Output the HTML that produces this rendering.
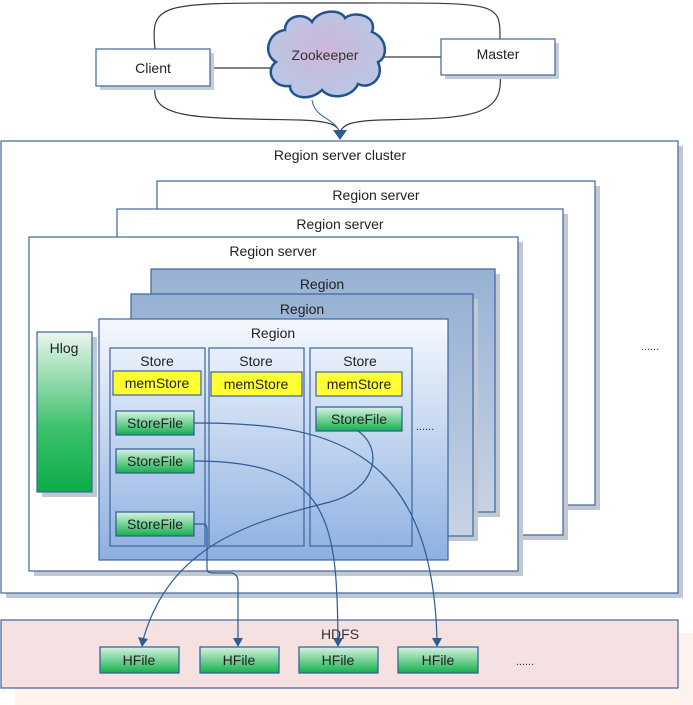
<!DOCTYPE html>
<html><head><meta charset="utf-8"><style>
html,body{margin:0;padding:0;background:#fff;}
svg{display:block;font-family:"Liberation Sans",sans-serif;}
</style></head><body>
<svg width="693" height="705" viewBox="0 0 693 705" xmlns="http://www.w3.org/2000/svg">
<defs>
<linearGradient id="gr" x1="0" y1="0" x2="0" y2="1"><stop offset="0" stop-color="#f6f9fe"/><stop offset="1" stop-color="#8db0e0"/></linearGradient>
<linearGradient id="gh" x1="0" y1="0" x2="0" y2="1"><stop offset="0" stop-color="#eaf6ee"/><stop offset="0.6" stop-color="#3cc06a"/><stop offset="1" stop-color="#0aae48"/></linearGradient>
<linearGradient id="gs" x1="0" y1="0" x2="0" y2="1"><stop offset="0" stop-color="#d8f3e0"/><stop offset="1" stop-color="#13b04e"/></linearGradient>
<linearGradient id="gb" x1="0" y1="0" x2="0" y2="1"><stop offset="0" stop-color="#98b2d4"/><stop offset="1" stop-color="#c6d3e4"/></linearGradient>
<radialGradient id="gc" cx="0.5" cy="0.45" r="0.6"><stop offset="0" stop-color="#cdb6d8"/><stop offset="1" stop-color="#b8c8e6"/></radialGradient>
<marker id="ar" markerWidth="10" markerHeight="10" refX="5" refY="9" orient="auto" markerUnits="userSpaceOnUse"><path d="M0,0 L10,0 L5,10 z" fill="#2d5b94" transform="rotate(-90 5 5) translate(0,0)"/></marker>
</defs>
<g fill="none" stroke="#3a3a3a" stroke-width="1.2">
<path d="M155,49 C150,0 160,3 330,3 C500,3 500,0 500,39"/>
<path d="M155,86 C150,120 200,118 300,120 C330,121 338,125 340,133"/>
<path d="M500,75 C505,120 460,118 380,120 C350,121 342,125 340,133"/>
<line x1="210" y1="68" x2="272" y2="68"/>
<line x1="380" y1="57" x2="441" y2="57"/>
</g>
<path d="M312,100 C315,120 338,118 340,135" fill="none" stroke="#4a78b4" stroke-width="1.2"/>
<path d="M333,130 L347,130 L340,140 z" fill="#2d5b94"/>
<rect x="100" y="53" width="114" height="37" fill="#c7ccd6"/>
<rect x="96" y="49" width="114" height="37" fill="#fff" stroke="#3d64a0" stroke-width="1.2"/>
<text x="153" y="73" font-size="14" text-anchor="middle" fill="#222">Client</text>
<rect x="445" y="43" width="114" height="36" fill="#c7ccd6"/>
<rect x="441" y="39" width="114" height="36" fill="#fff" stroke="#3d64a0" stroke-width="1.2"/>
<text x="498" y="59" font-size="14" text-anchor="middle" fill="#222">Master</text>
<path d="M285,30 C285,15 305,12 312,22 C318,10 340,8 345,18 C355,10 378,16 372,32 C388,38 388,58 378,62 C385,78 370,90 358,84 C352,98 330,100 322,90 C310,102 290,98 290,86 C272,88 265,70 276,62 C262,54 268,32 285,30 z" fill="url(#gc)" stroke="#23528f" stroke-width="2.5"/>
<text x="325" y="60" font-size="14" text-anchor="middle" fill="#333">Zookeeper</text>
<!-- cluster -->
<rect x="6" y="146" width="677" height="452" fill="#c2c8d2"/>
<rect x="1" y="141" width="677" height="452" fill="#fff" stroke="#3d64a0" stroke-width="1.2"/>
<text x="340" y="160" font-size="14" text-anchor="middle" fill="#222">Region server cluster</text>
<text x="650" y="350" font-size="11" text-anchor="middle" fill="#333">......</text>
<rect x="162" y="186" width="438" height="324" fill="#c2c8d2"/>
<rect x="157" y="181" width="438" height="324" fill="#fff" stroke="#3d64a0" stroke-width="1.2"/>
<text x="376" y="200" font-size="14" text-anchor="middle" fill="#222">Region server</text>
<rect x="122" y="214" width="446" height="326" fill="#c2c8d2"/>
<rect x="117" y="209" width="446" height="326" fill="#fff" stroke="#3d64a0" stroke-width="1.2"/>
<text x="340" y="229" font-size="14" text-anchor="middle" fill="#222">Region server</text>
<rect x="34" y="242" width="489" height="334" fill="#c2c8d2"/>
<rect x="29" y="237" width="489" height="334" fill="#fff" stroke="#3d64a0" stroke-width="1.2"/>
<text x="273" y="256" font-size="14" text-anchor="middle" fill="#222">Region server</text>
<rect x="156" y="274" width="344" height="243" fill="#c2c8d2"/>
<rect x="151" y="269" width="344" height="243" fill="url(#gb)" stroke="#3d64a0" stroke-width="1.2"/>
<text x="322" y="289" font-size="14" text-anchor="middle" fill="#222">Region</text>
<rect x="136" y="299" width="342" height="242" fill="#c2c8d2"/>
<rect x="131" y="294" width="342" height="242" fill="url(#gb)" stroke="#3d64a0" stroke-width="1.2"/>
<text x="302" y="314" font-size="14" text-anchor="middle" fill="#222">Region</text>
<rect x="99" y="319" width="349" height="241" fill="url(#gr)" stroke="#3d64a0" stroke-width="1.2"/>
<text x="273" y="338" font-size="14" text-anchor="middle" fill="#222">Region</text>
<rect x="42" y="337" width="55" height="160" fill="#c2c8d2"/>
<rect x="37" y="332" width="55" height="160" fill="url(#gh)" stroke="#3d64a0" stroke-width="1.2"/>
<text x="64" y="353" font-size="14" text-anchor="middle" fill="#222">Hlog</text>
<g fill="none" stroke="#3d64a0" stroke-width="1.2">
<rect x="110" y="348" width="95" height="198"/>
<rect x="209" y="348" width="95" height="198"/>
<rect x="310" y="348" width="102" height="198"/>
</g>
<g font-size="14" text-anchor="middle" fill="#222">
<text x="157" y="366">Store</text><text x="256" y="366">Store</text><text x="360" y="366">Store</text>
</g>
<g fill="#ffff33" stroke="#3d64a0" stroke-width="1.2">
<rect x="113" y="371" width="88" height="24"/><rect x="211" y="372" width="91" height="24"/><rect x="316" y="372" width="86" height="24"/>
</g>
<g font-size="14" text-anchor="middle" fill="#222">
<text x="157" y="388">memStore</text><text x="256" y="389">memStore</text><text x="359" y="389">memStore</text>
</g>
<g fill="url(#gs)" stroke="#2d5b94" stroke-width="1.2">
<rect x="116" y="411" width="78" height="24"/><rect x="116" y="449" width="78" height="24"/><rect x="116" y="512" width="78" height="24"/><rect x="316" y="407" width="86" height="24"/>
</g>
<g font-size="14" text-anchor="middle" fill="#222">
<text x="155" y="428">StoreFile</text><text x="155" y="466">StoreFile</text><text x="155" y="529">StoreFile</text><text x="359" y="424">StoreFile</text>
</g>
<text x="425" y="430" font-size="11" text-anchor="middle" fill="#333">......</text>
<!-- HDFS -->
<rect x="15" y="633" width="678" height="72" fill="#fdf2ec"/>
<rect x="1" y="620" width="677" height="68" fill="#f5e1e1" stroke="#3d64a0" stroke-width="1.2"/>
<text x="340" y="639" font-size="14" text-anchor="middle" fill="#333">HDFS</text>
<g fill="url(#gs)" stroke="#2d5b94" stroke-width="1.2">
<rect x="100" y="647" width="79" height="26"/><rect x="200" y="647" width="79" height="26"/><rect x="299" y="647" width="79" height="26"/><rect x="398" y="647" width="80" height="26"/>
</g>
<g font-size="14" text-anchor="middle" fill="#222">
<text x="139" y="665">HFile</text><text x="239" y="665">HFile</text><text x="338" y="665">HFile</text><text x="438" y="665">HFile</text>
</g>
<text x="525" y="665" font-size="11" text-anchor="middle" fill="#333">......</text>
<!-- connectors -->
<g fill="none" stroke="#2d5b94" stroke-width="1.2">
<path d="M194,423 C320,423 432,440 437,640"/>
<path d="M194,461 C330,461 337,520 338,640"/>
<path d="M194,524 H203 Q207,524 207,530 V569 Q207,573 213,573 H230 Q238,573 238,582 V640"/>
<path d="M358,431 C385,450 375,490 330,502 C250,522 170,545 143,640"/>
</g>
<g fill="#2d5b94">
<path d="M432,638 L442,638 L437,647 z"/>
<path d="M333,638 L343,638 L338,647 z"/>
<path d="M233,638 L243,638 L238,647 z"/>
<path d="M138,637 L148,639 L142,647 z"/>
</g>
</svg>
</body></html>
